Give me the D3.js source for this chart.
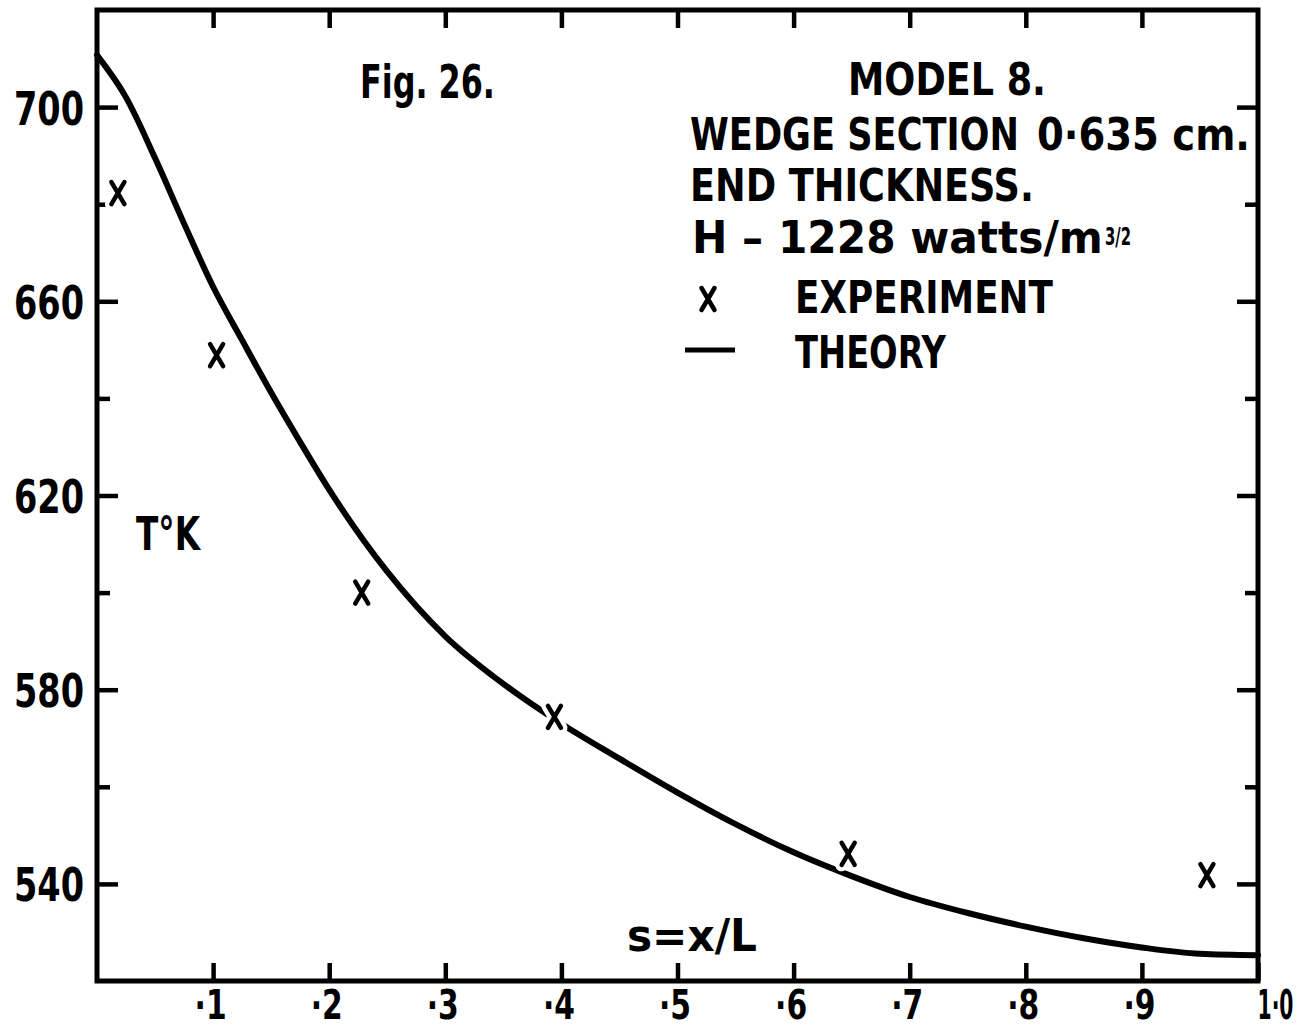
<!DOCTYPE html>
<html><head><meta charset="utf-8">
<script src="https://cdn.jsdelivr.net/npm/d3@7/dist/d3.min.js"></script>
<style>
html,body{margin:0;padding:0;background:#fff;}
svg{display:block;background:#fff;}
text{font-family:'Liberation Sans Narrow','DejaVu Sans Condensed','Arial Narrow',sans-serif;font-weight:bold;fill:#000;}
</style></head><body>
<svg id="chart" width="1309" height="1029"></svg>
<script>
// ---- data ----
const xTickValues = [0.1,0.2,0.3,0.4,0.5,0.6,0.7,0.8,0.9,1.0];
const xTickLabels = ["·1","·2","·3","·4","·5","·6","·7","·8","·9","1·0"];
const yTickValues = [540,580,620,660,700];
const yTickLabels = ["540","580","620","660","700"];
const yMinorTicks = [560,600,640,680];

// theory curve (s = x/L, T in K)
const theoryS = [0,0.025,0.05,0.075,0.1,0.125,0.15,0.175,0.2,0.25,0.3,0.35,0.4,0.45,0.5,0.55,0.6,0.65,0.7,0.75,0.8,0.85,0.9,0.95,1.0];
const theoryT = [710.7,702.0,689.5,676.0,663.0,652.0,641.2,631.0,621.2,604.3,591.0,581.2,573.0,565.8,558.8,552.3,546.5,541.6,537.3,534.0,531.2,528.8,526.9,525.6,525.3];

// experiment points
const expS = [0.018,0.103,0.228,0.394,0.647,0.956];
const expT = [682.3,648.9,600.0,574.4,546.2,541.8];

// ---- drawing ----
const svg = d3.select("#chart");
const x = d3.scaleLinear().domain([0,1]).range([97,1258]);
const y = d3.scaleLinear().domain([520,720]).range([981,10]);

// squeeze a text horizontally to a target width (lettering is condensed)
function fit(t, w){
  const n = t.node().getComputedTextLength();
  const sx = w / n;
  const x0 = +t.attr("x") || 0;
  t.attr("x", 0).attr("transform", `translate(${x0},0) scale(${sx},1)`);
}

function styleAxis(g){
  g.select(".domain").remove();
  g.selectAll(".tick line").attr("stroke","#000").attr("stroke-width",4.5);
}

// left axis major + labels
const gL = svg.append("g").attr("transform",`translate(${x(0)},0)`)
  .call(d3.axisLeft(y).tickValues(yTickValues).tickSizeInner(-21).tickSizeOuter(0).tickPadding(13)
    .tickFormat((d,i)=>yTickLabels[i]));
styleAxis(gL);
gL.selectAll(".tick text").attr("font-size",47).attr("dy","0.36em")
  .each(function(){ fit(d3.select(this), 70); });
// left minor
const gLm = svg.append("g").attr("transform",`translate(${x(0)},0)`)
  .call(d3.axisLeft(y).tickValues(yMinorTicks).tickSizeInner(-13).tickSizeOuter(0).tickFormat(""));
styleAxis(gLm);
// right axis
const gR = svg.append("g").attr("transform",`translate(${x(1)},0)`)
  .call(d3.axisRight(y).tickValues(yTickValues).tickSizeInner(-21).tickSizeOuter(0).tickFormat(""));
styleAxis(gR);
const gRm = svg.append("g").attr("transform",`translate(${x(1)},0)`)
  .call(d3.axisRight(y).tickValues(yMinorTicks).tickSizeInner(-13).tickSizeOuter(0).tickFormat(""));
styleAxis(gRm);
// bottom axis
const gB = svg.append("g").attr("transform",`translate(0,${y(520)})`)
  .call(d3.axisBottom(x).tickValues(xTickValues).tickSizeInner(-18).tickSizeOuter(0).tickPadding(8)
    .tickFormat((d,i)=>xTickLabels[i]));
styleAxis(gB);
gB.selectAll(".tick text").attr("font-size",41).attr("dy","0.72em")
  .each(function(d,i){
    const t = d3.select(this);
    if (!xTickLabels[i].startsWith("·")) { t.attr("text-anchor","start").attr("x",-1); fit(t,36); }
    else { t.attr("x",-3); fit(t,32); }
  });
// top axis
const gT = svg.append("g").attr("transform",`translate(0,${y(720)})`)
  .call(d3.axisTop(x).tickValues(xTickValues.slice(0,-1)).tickSizeInner(-18).tickSizeOuter(0).tickFormat(""));
styleAxis(gT);

// frame
svg.append("rect")
  .attr("x",x(0)).attr("y",y(720))
  .attr("width",x(1)-x(0)).attr("height",y(520)-y(720))
  .attr("fill","none").attr("stroke","#000").attr("stroke-width",5);

// theory curve
const theory = theoryS.map((s,i)=>({s,t:theoryT[i]}));
const line = d3.line().x(d=>x(d.s)).y(d=>y(d.t)).curve(d3.curveMonotoneX);
svg.append("path").datum(theory)
  .attr("d",line).attr("fill","none").attr("stroke","#000")
  .attr("stroke-width",6).attr("stroke-linecap","round");

// experiment markers
const markPath = "M-6.5,-11L6.5,11M6.5,-11L-6.5,11";
const exp = expS.map((s,i)=>({s,t:expT[i]}));
const gE = svg.append("g");
gE.selectAll("path.under").data(exp).join("path").attr("class","under")
  .attr("transform",d=>`translate(${x(d.s)},${y(d.t)})`)
  .attr("d",markPath).attr("stroke","#fff").attr("stroke-width",13).attr("stroke-linecap","round");
gE.selectAll("path.mark").data(exp).join("path").attr("class","mark")
  .attr("transform",d=>`translate(${x(d.s)},${y(d.t)})`)
  .attr("d",markPath).attr("stroke","#000").attr("stroke-width",4.5).attr("stroke-linecap","round");

// ---- texts ----
function label(str,x0,yb,w,size){
  const t = svg.append("text").attr("x",x0).attr("y",yb).attr("font-size",size).text(str);
  fit(t,w);
  return t;
}
label("Fig. 26.",360,98,135,46);
label("MODEL 8.",848,95,198,45);
label("WEDGE SECTION",690,150,329,45);
label("0·635 cm.",1037,150,213,45);
label("END THICKNESS.",690,201,344,45);
label("H – 1228 watts/m",692,253,411,45);
label("3/2",1105,245,26,24);
label("EXPERIMENT",795,313,258,45);
label("THEORY",795,368,151,45);
label("T°K",136,550,64,46);
label("s=x/L",627,951,130,45);

// legend symbols
svg.append("path").attr("transform","translate(708,299)").attr("d",markPath)
  .attr("stroke","#000").attr("stroke-width",4.5).attr("stroke-linecap","round");
svg.append("line").attr("x1",685).attr("x2",735).attr("y1",350).attr("y2",350)
  .attr("stroke","#000").attr("stroke-width",5);
</script>
</body></html>
